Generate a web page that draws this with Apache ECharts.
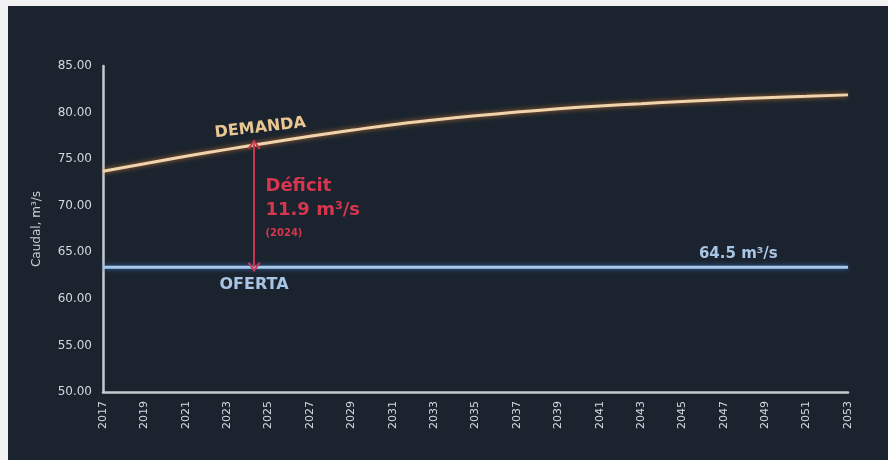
<!DOCTYPE html>
<html><head><meta charset="utf-8">
<script src="https://cdn.jsdelivr.net/npm/echarts@6/dist/echarts.min.js"></script>
<style>
html,body{margin:0;padding:0;background:#f2f2f2;width:888px;height:460px;overflow:hidden}
#chart{position:absolute;left:8px;top:6px;width:880px;height:454px;background:#1b242e}
</style>
</head><body><div id="chart"></div>
<script>
// ---- data ----
const years   = [2017,2019,2021,2023,2025,2027,2029,2031,2033,2035,2037,2039,2041,2043,2045,2047,2049,2051,2053];
const demanda = [73.7,74.5,75.3,76.05,76.75,77.45,78.1,78.7,79.2,79.65,80.05,80.4,80.7,80.95,81.2,81.4,81.6,81.75,81.9];
const ofertaYears  = [2017, 2053];
const ofertaValues = [63.4, 63.4];
const xTickLabels = years;
const yTicks = [50,55,60,65,70,75,80,85];
const deficitX = 2024.3, deficitTop = 76.6, deficitBottom = 63.4;
const texts = {
  demanda: 'DEMANDA', oferta: 'OFERTA', ofertaValue: '64.5 m³/s',
  deficit: 'Déficit', deficitValue: '11.9 m³/s', deficitYear: '(2024)',
  yName: 'Caudal, m³/s'
};

const chart = echarts.init(document.getElementById('chart'), null, {renderer:'canvas'});
const FONT = 'DejaVu Sans';
chart.setOption({
  backgroundColor: '#1b242e',
  animation: false,
  grid: {left: 95, right: 40, top: 60, bottom: 68},
  xAxis: {
    type: 'value', min: years[0], max: years[years.length-1],
    axisLine: {show: true, lineStyle: {color: '#c5cad0', width: 2.5}},
    axisTick: {show: false, customValues: xTickLabels},
    splitLine: {show: false},
    axisLabel: {customValues: xTickLabels, rotate: 90, color: '#d4d8dc', fontFamily: FONT, fontSize: 11, margin: 9,
      formatter: v => String(v)}
  },
  yAxis: {
    type: 'value', min: yTicks[0], max: yTicks[yTicks.length-1], interval: 5,
    name: texts.yName, nameLocation: 'middle', nameGap: 60,
    nameTextStyle: {color: '#c9ced3', fontFamily: FONT, fontSize: 12},
    axisLine: {show: true, lineStyle: {color: '#c5cad0', width: 2.5}},
    axisTick: {show: false},
    splitLine: {show: false},
    axisLabel: {color: '#d4d8dc', fontFamily: FONT, fontSize: 12, margin: 11, formatter: v => v.toFixed(2)}
  },
  series: [
    {
      name: 'Demanda', type: 'line', smooth: true, symbol: 'none',
      data: years.map((y,i) => [y, demanda[i]]),
      lineStyle: {color: '#f0d4ad', width: 3, shadowColor: 'rgba(225,130,50,0.8)', shadowBlur: 5}
    },
    {
      name: 'Oferta', type: 'line', symbol: 'none',
      data: ofertaYears.map((y,i) => [y, ofertaValues[i]]),
      lineStyle: {color: '#a9c7e8', width: 3, shadowColor: 'rgba(60,120,210,0.9)', shadowBlur: 5},
      markLine: {
        silent: true,
        symbol: ['path://M0,10 L5,0 L10,10 L8.5,10.8 L5,3.5 L1.5,10.8 Z', 'path://M0,10 L5,0 L10,10 L8.5,10.8 L5,3.5 L1.5,10.8 Z'],
        symbolSize: [13, 10],
        label: {show: false},
        lineStyle: {color: '#c9344f', width: 2, type: 'solid'},
        data: [[{coord: [deficitX, deficitBottom]}, {coord: [deficitX, deficitTop]}]]
      }
    }
  ]
});

function px(x, y) { return chart.convertToPixel({gridIndex: 0}, [x, y]); }
const pDem = px(2024.6, 78.35);
const pOf  = px(2024.3, 61.55);
const pOv  = px(2047.7, 64.8);
const pD1  = px(2024.85, 72.1);
const pD2  = px(2024.85, 69.5);
const pD3  = px(2024.85, 67.05);
chart.setOption({
  graphic: [
    {type: 'text', x: pDem[0], y: pDem[1], rotation: 6.5 * Math.PI / 180,
     style: {text: texts.demanda, fill: '#e9c692', font: 'bold 16px ' + FONT, align: 'center', verticalAlign: 'middle',
       shadowColor: 'rgba(230,130,50,0.6)', shadowBlur: 4}},
    {type: 'text', x: pOf[0], y: pOf[1],
     style: {text: texts.oferta, fill: '#a9c5e6', font: 'bold 16px ' + FONT, align: 'center', verticalAlign: 'middle',
       shadowColor: 'rgba(60,120,210,0.6)', shadowBlur: 4}},
    {type: 'text', x: pOv[0], y: pOv[1],
     style: {text: texts.ofertaValue, fill: '#a9c5e6', font: 'bold 15px ' + FONT, align: 'center', verticalAlign: 'middle',
       shadowColor: 'rgba(60,120,210,0.6)', shadowBlur: 4}},
    {type: 'text', x: pD1[0], y: pD1[1],
     style: {text: texts.deficit, fill: '#d8364f', font: 'bold 18px ' + FONT, align: 'left', verticalAlign: 'middle'}},
    {type: 'text', x: pD2[0], y: pD2[1],
     style: {text: texts.deficitValue, fill: '#d8364f', font: 'bold 18px ' + FONT, align: 'left', verticalAlign: 'middle'}},
    {type: 'text', x: pD3[0], y: pD3[1],
     style: {text: texts.deficitYear, fill: '#d8364f', font: 'bold 10px ' + FONT, align: 'left', verticalAlign: 'middle'}}
  ]
});
</script>
</body></html>
